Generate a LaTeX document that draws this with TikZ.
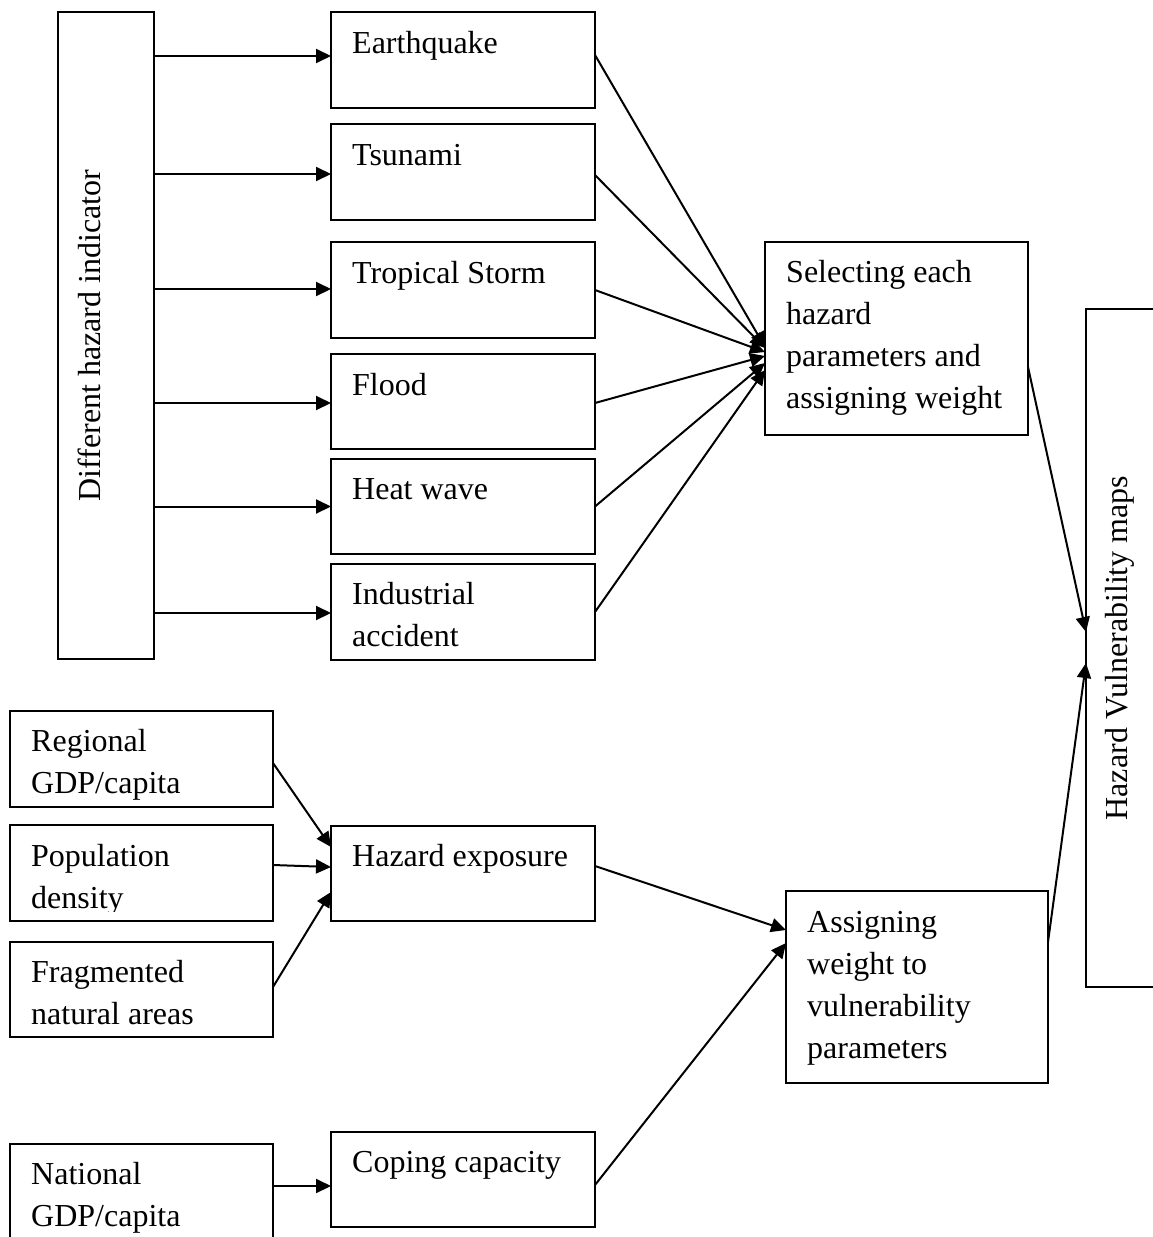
\documentclass[tikz,border=0pt]{standalone}
\usepackage{fontspec}
\setmainfont{Liberation Serif}
\usetikzlibrary{arrows.meta}
\tikzset{
  box/.style={draw, line width=1.2pt, anchor=north west, inner sep=0pt, outer sep=0pt},
  txt/.style={anchor=base west, inner sep=0pt, font=\fontsize{32}{42}\selectfont},
  vtxt/.style={anchor=base, inner sep=0pt, rotate=90, font=\fontsize{32}{42}\selectfont},
  arr/.style={line width=2pt, -{Triangle[length=15pt,width=14pt]}}
}
\begin{document}
\begin{tikzpicture}[x=1pt,y=-1pt]
\useasboundingbox (0,0) rectangle (1153,1237);
\clip (0,0) rectangle (1153,1237);
% boxes
\node[box, minimum width=96pt, minimum height=647pt] (L) at (58,12) {};
\node[box, minimum width=264pt, minimum height=96pt] (eq) at (331,12) {};
\node[box, minimum width=264pt, minimum height=96pt] (ts) at (331,124) {};
\node[box, minimum width=264pt, minimum height=96pt] (tr) at (331,242) {};
\node[box, minimum width=264pt, minimum height=95pt] (fl) at (331,354) {};
\node[box, minimum width=264pt, minimum height=95pt] (hw) at (331,459) {};
\node[box, minimum width=264pt, minimum height=96pt] (ia) at (331,564) {};
\node[box, minimum width=263pt, minimum height=193pt] (sel) at (765,242) {};
\node[box, minimum width=100pt, minimum height=678pt] (maps) at (1086,309) {};
\node[box, minimum width=263pt, minimum height=96pt] (reg) at (10,711) {};
\node[box, minimum width=263pt, minimum height=96pt] (pop) at (10,825) {};
\node[box, minimum width=263pt, minimum height=95pt] (fra) at (10,942) {};
\node[box, minimum width=263pt, minimum height=150pt] (nat) at (10,1144) {};
\node[box, minimum width=264pt, minimum height=95pt] (hex) at (331,826) {};
\node[box, minimum width=264pt, minimum height=95pt] (cop) at (331,1132) {};
\node[box, minimum width=262pt, minimum height=192pt] (asg) at (786,891) {};
% texts
\node[vtxt] (Lt) at (100,335.5) {Different hazard indicator};
\node[vtxt] (mapsT) at (1127,648) {Hazard Vulnerability maps};
\node[txt] (eqT) at (352,53) {Earthquake};
\node[txt] (tsT) at (352,165) {Tsunami};
\node[txt] (trT) at (352,283) {Tropical Storm};
\node[txt] (flT) at (352,395) {Flood};
\node[txt] (hwT) at (352,499) {Heat wave};
\node[txt] (iaT) at (352,604) {\vtop{\hbox{Industrial}\hbox{accident}}};
\node[txt] (selT) at (786,282) {\vtop{\hbox{Selecting each}\hbox{hazard}\hbox{parameters and}\hbox{assigning weight}}};
\node[txt] (regT) at (31,751) {\vtop{\hbox{Regional}\hbox{GDP/capita}}};
\begin{scope}
\clip (pop.north west) rectangle ([yshift=10pt]pop.south east);
\node[txt] (popT) at (31,866) {\vtop{\hbox{Population}\hbox{density}}};
\end{scope}
\node[txt] (fraT) at (31,982) {\vtop{\hbox{Fragmented}\hbox{natural areas}}};
\node[txt] (natT) at (31,1184) {\vtop{\hbox{National}\hbox{GDP/capita}}};
\node[txt] (hexT) at (352,866) {Hazard exposure};
\node[txt] (copT) at (352,1172) {Coping capacity};
\node[txt] (asgT) at (807,932) {\vtop{\hbox{Assigning}\hbox{weight to}\hbox{vulnerability}\hbox{parameters}}};
% arrows from left box
\draw[arr] ([yshift=4pt]eq.west -| L.east) -- ([yshift=4pt]eq.west);
\draw[arr] ([yshift=-2pt]ts.west -| L.east) -- ([yshift=-2pt]ts.west);
\draw[arr] ([yshift=1pt]tr.west -| L.east) -- ([yshift=1pt]tr.west);
\draw[arr] ([yshift=-1.5pt]fl.west -| L.east) -- ([yshift=-1.5pt]fl.west);
\draw[arr] (hw.west -| L.east) -- (hw.west);
\draw[arr] ([yshift=-1pt]ia.west -| L.east) -- ([yshift=-1pt]ia.west);
% hazards to selecting
\draw[arr] ([yshift=5pt]eq.east) -- ([yshift=-8.5pt]sel.west);
\draw[arr] ([yshift=-3pt]ts.east) -- ([yshift=-9.5pt]sel.west);
\draw[arr] (tr.east) -- ([yshift=-13.5pt]sel.west);
\draw[arr] ([yshift=-1.5pt]fl.east) -- ([yshift=-17.5pt]sel.west);
\draw[arr] (hw.east) -- ([yshift=-24.5pt]sel.west);
\draw[arr] (ia.east) -- ([yshift=-31.5pt]sel.west);
% to maps
\draw[arr] ([yshift=-28.5pt]sel.east) -- ([yshift=16pt]maps.west);
\draw[arr] ([yshift=45pt]asg.east) -- ([yshift=-15pt]maps.west);
% lower part
\draw[arr] ([yshift=-4pt]reg.east) -- ([yshift=26.5pt]hex.west);
\draw[arr] ([yshift=8pt]pop.east) -- ([yshift=6.5pt]hex.west);
\draw[arr] ([yshift=2.5pt]fra.east) -- ([yshift=-18.5pt]hex.west);
\draw[arr] ([yshift=7.5pt]hex.east) -- ([yshift=57pt]asg.west);
\draw[arr] ([yshift=-5.5pt]cop.east) -- ([yshift=44pt]asg.west);
\draw[arr] ([yshift=-6.5pt]cop.west -| nat.east) -- ([yshift=-6.5pt]cop.west);
\end{tikzpicture}
\end{document}
